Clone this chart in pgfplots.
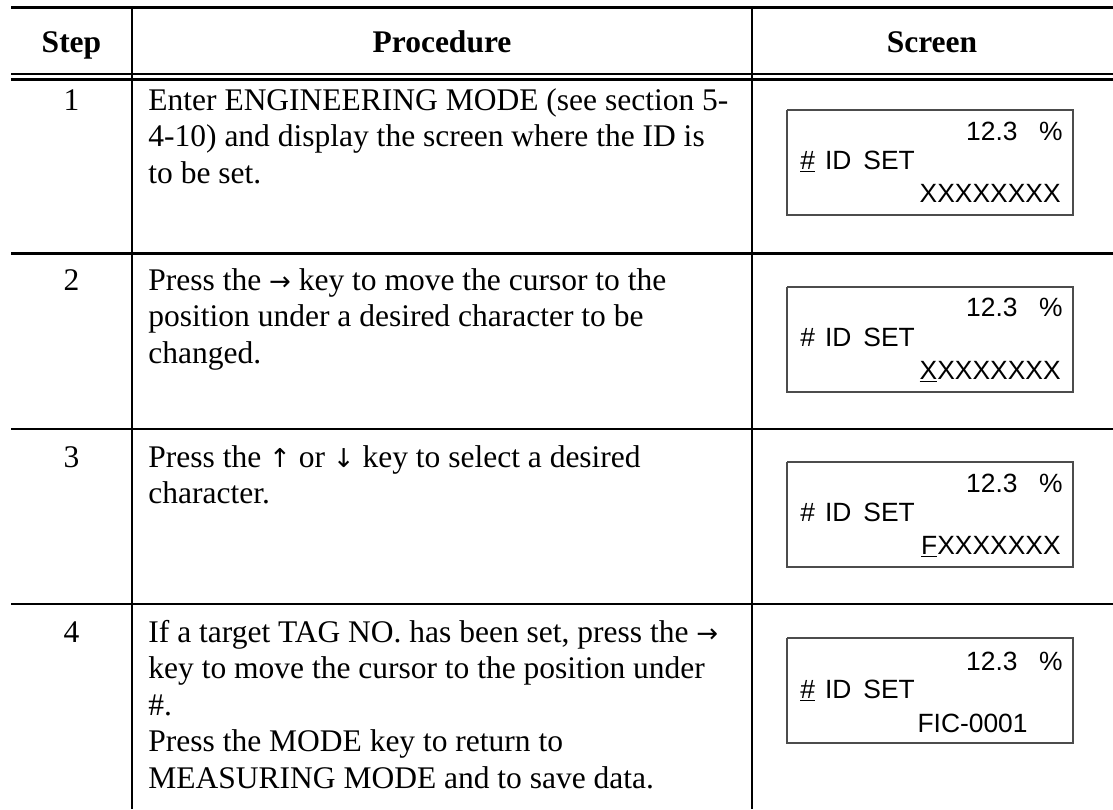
\documentclass[border=0pt]{standalone}
\usepackage{fontspec}
\setmainfont{Liberation Serif}
\newfontfamily\scr{Liberation Sans}
\newfontfamily\arr{DejaVu Sans}
\newcommand{\ar}[1]{{\arr\fontsize{13}{15}\selectfont #1}}
\usepackage{pgfplots}
\pgfplotsset{compat=1.18}
\tikzset{
  body/.style={anchor=base west, inner sep=0pt, font=\fontsize{15.75}{18}\selectfont},
  num/.style={anchor=base, inner sep=0pt, font=\fontsize{15.75}{18}\selectfont},
  head/.style={anchor=base, inner sep=0pt, font=\fontsize{15.75}{18}\selectfont\bfseries},
  scrl/.style={anchor=base west, inner sep=0pt, font=\fontsize{13.2}{15}\scr},
  scrr/.style={anchor=base east, inner sep=0pt, font=\fontsize{13.2}{15}\scr},
}
\newcommand{\idset}[1]{#1\hspace{0.38em}ID\hspace{0.45em}SET}
\begin{document}
\begin{tikzpicture}
\begin{axis}[name=t, scale only axis, width=556.5pt, height=404.5pt,
  xmin=0, xmax=1113, ymin=0, ymax=809, y dir=reverse, hide axis, clip=false,
  every axis plot/.append style={mark=none}]
% table rules
\addplot[black, line width=1.2pt] coordinates {(11,7.5) (1113,7.5)};
\addplot[black, line width=1.1pt] coordinates {(11,74) (1113,74)};
\addplot[black, line width=1.1pt] coordinates {(11,79.5) (1113,79.5)};
\addplot[black, line width=1.2pt] coordinates {(11,253.5) (1113,253.5)};
\addplot[black, line width=1.2pt] coordinates {(11,429) (1113,429)};
\addplot[black, line width=1.2pt] coordinates {(11,604) (1113,604)};
\addplot[black, line width=1.2pt] coordinates {(132,6.3) (132,809)};
\addplot[black, line width=1.2pt] coordinates {(752,6.3) (752,809)};
% screen boxes
\addplot[black!70, line width=0.6pt, line join=miter] coordinates {(787,110) (1073,110) (1073,215) (787,215) (787,110)};
\addplot[black!70, line width=0.6pt, line join=miter] coordinates {(787,287) (1073,287) (1073,392) (787,392) (787,287)};
\addplot[black!70, line width=0.6pt, line join=miter] coordinates {(787,462) (1073,462) (1073,567) (787,567) (787,462)};
\addplot[black!70, line width=0.6pt, line join=miter] coordinates {(787,638) (1073,638) (1073,743) (787,743) (787,638)};
% header
\node[head] at (71.5,52) {Step};
\node[head] at (442,52) {Procedure};
\node[head] at (932,52) {Screen};
% step numbers
\node[num] at (71.5,110) {1};
\node[num] at (71.5,290) {2};
\node[num] at (71.5,467) {3};
\node[num] at (71.5,642) {4};
% procedures
\node[body] at (148,110) {Enter ENGINEERING MODE (see section 5-};
\node[body] at (148,146.5) {4-10) and display the screen where the ID is};
\node[body] at (148,183) {to be set.};
\node[body] at (148,290) {Press the \ar{→} key to move the cursor to the};
\node[body] at (148,326.5) {position under a desired character to be};
\node[body] at (148,363) {changed.};
\node[body] at (148,467) {Press the \ar{↑} or \ar{↓} key to select a desired};
\node[body] at (148,503.5) {character.};
\node[body] at (148,642) {If a target TAG NO. has been set, press the \ar{→}};
\node[body] at (148,678.5) {key to move the cursor to the position under};
\node[body] at (148,715) {\#.};
\node[body] at (148,751.5) {Press the MODE key to return to};
\node[body] at (148,788) {MEASURING MODE and to save data.};
% screens
\node[scrr] at (1018,140) {12.3};
\node[scrr] at (1063,140) {\%};
\node[scrl] at (800,169) {\idset{\underline{\#}}};
\node[scrr] at (1061,202) {XXXXXXXX};
\node[scrr] at (1018,316) {12.3};
\node[scrr] at (1063,316) {\%};
\node[scrl] at (800,346) {\idset{\#}};
\node[scrr] at (1061,379) {\underline{X}XXXXXXX};
\node[scrr] at (1018,492) {12.3};
\node[scrr] at (1063,492) {\%};
\node[scrl] at (800,521) {\idset{\#}};
\node[scrr] at (1061,554) {\underline{F}XXXXXXX};
\node[scrr] at (1018,670) {12.3};
\node[scrr] at (1063,670) {\%};
\node[scrl] at (800,698) {\idset{\underline{\#}}};
\node[scrr] at (1028,732) {FIC-0001};
\end{axis}
\pgfresetboundingbox
\path (t.south west) rectangle (t.north east);
\end{tikzpicture}
\end{document}
